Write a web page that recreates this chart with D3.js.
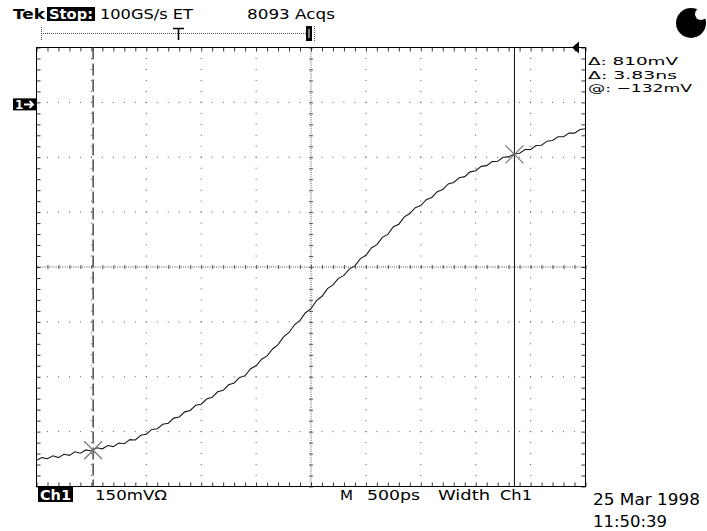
<!DOCTYPE html>
<html><head><meta charset="utf-8">
<script src="https://cdn.jsdelivr.net/npm/d3@7"></script>
<style>body{margin:0;background:#fff}svg{display:block}text{font-family:"DejaVu Sans",sans-serif;font-size:14px;fill:#000}</style>
</head><body>
<svg id="c" width="707" height="531"></svg>
<script>
// ---- data (time in ns, voltage in mV) ----
const timesNs = [0,0.05,0.1,0.15,0.2,0.25,0.3,0.35,0.4,0.45,0.5,0.55,0.6,0.65,0.7,0.75,0.8,0.85,0.9,0.95,
 1,1.05,1.1,1.15,1.2,1.25,1.3,1.35,1.4,1.45,1.5,1.55,1.6,1.65,1.7,1.75,1.8,1.85,1.9,1.95,
 2,2.05,2.1,2.15,2.2,2.25,2.3,2.35,2.4,2.45,2.5,2.55,2.6,2.65,2.7,2.75,2.8,2.85,2.9,2.95,
 3,3.05,3.1,3.15,3.2,3.25,3.3,3.35,3.4,3.45,3.5,3.55,3.6,3.65,3.7,3.75,3.8,3.85,3.9,3.95,
 4,4.05,4.1,4.15,4.2,4.25,4.3,4.35,4.4,4.45,4.5,4.55,4.6,4.65,4.7,4.75,4.8,4.85,4.9,4.95,5];
const voltsMv = [-978,-971,-974,-966,-971,-962,-965,-955,-959,-950,-953,-944,-947,-938,-941,-931,-933,-922,-923,-910,
 -907,-894,-892,-880,-877,-863,-860,-846,-842,-828,-825,-811,-806,-791,-787,-772,-767,-752,-747,-728,
 -720,-702,-693,-674,-662,-641,-629,-608,-596,-575,-564,-542,-530,-509,-499,-481,-473,-455,-447,-427,
 -418,-398,-389,-369,-361,-340,-333,-313,-304,-288,-282,-266,-260,-244,-238,-223,-219,-206,-203,-190,
 -187,-175,-173,-162,-161,-150,-149,-141,-139,-129,-129,-118,-117,-106,-104,-94,-94,-84,-84,-74,-72];
const xMajorNs = [0,0.5,1,1.5,2,2.5,3,3.5,4,4.5,5];
const yMajorMv = [-1050,-900,-750,-600,-450,-300,-150,0,150];
const cursorTimesNs = [0.516, 4.353];
const cursorVoltsMv = [-951, -142];
const groundMv = 0;
const triggerMv = 150;
const readouts = ["\u0394: 810mV", "\u0394: 3.83ns", "@: \u2212132mV"];

// ---- scales ----
const x = d3.scaleLinear().domain([0,5]).range([36.5,585.5]);
const y = d3.scaleLinear().domain([-1050,150]).range([486.5,47.5]);
const svg = d3.select("#c");
const minorX = d3.range(0, 5.0001, 0.1);
const minorY = d3.range(-1050, 150.001, 30);
const fineX = d3.range(0, 5.0001, 0.02);
const fineY = d3.range(-1050, 150.001, 6);

const g = svg.append("g");
const dotCol = "#555";
// grid dots on interior major lines
xMajorNs.slice(1,-1).filter(v=>v!==2.5).forEach(t=>{
  g.selectAll(null).data(minorY).enter().append("rect")
    .attr("x", x(t)-0.5).attr("y", d=>y(d)-0.5).attr("width",1).attr("height",1).attr("fill",dotCol);
});
yMajorMv.slice(1,-1).filter(v=>v!==-450).forEach(m=>{
  g.selectAll(null).data(minorX).enter().append("rect")
    .attr("x", d=>x(d)-0.5).attr("y", y(m)-0.5).attr("width",1).attr("height",1).attr("fill",dotCol);
});
// center lines: dense dots + ticks
g.selectAll(null).data(fineY).enter().append("rect")
  .attr("x", x(2.5)-0.5).attr("y", d=>y(d)-0.5).attr("width",1).attr("height",1).attr("fill",dotCol);
g.selectAll(null).data(fineX).enter().append("rect")
  .attr("x", d=>x(d)-0.5).attr("y", y(-450)-0.5).attr("width",1).attr("height",1).attr("fill",dotCol);
[d3.axisTop, d3.axisBottom].forEach(ax=>{
  g.append("g").attr("transform","translate(0,"+y(-450)+")").call(ax(x).tickValues(minorX).tickSize(2).tickFormat(""))
   .call(s=>{s.select(".domain").remove(); s.selectAll("line").attr("stroke",dotCol);});
});
[d3.axisLeft, d3.axisRight].forEach(ax=>{
  g.append("g").attr("transform","translate("+x(2.5)+",0)").call(ax(y).tickValues(minorY).tickSize(2).tickFormat(""))
   .call(s=>{s.select(".domain").remove(); s.selectAll("line").attr("stroke",dotCol);});
});
// frame edge ticks
const edge = (axis, tr) => g.append("g").attr("transform",tr).call(axis.tickSize(4).tickFormat(""))
   .call(s=>{s.select(".domain").remove(); s.selectAll("line").attr("stroke","#333");});
edge(d3.axisBottom(x).tickValues(minorX), "translate(0,"+y(150)+")");
edge(d3.axisTop(x).tickValues(minorX), "translate(0,"+y(-1050)+")");
edge(d3.axisRight(y).tickValues(minorY), "translate("+x(0)+",0)");
edge(d3.axisLeft(y).tickValues(minorY), "translate("+x(5)+",0)");
// frame
g.append("rect").attr("x",x(0)).attr("y",y(150)).attr("width",x(5)-x(0)).attr("height",y(-1050)-y(150))
  .attr("fill","none").attr("stroke","#000").attr("stroke-width",1);

// cursors
g.append("line").attr("x1",x(cursorTimesNs[0])).attr("x2",x(cursorTimesNs[0])).attr("y1",y(150)).attr("y2",y(-1050))
  .attr("stroke","#555").attr("stroke-width",1.6).attr("stroke-dasharray","12,4");
g.append("line").attr("x1",x(cursorTimesNs[1])).attr("x2",x(cursorTimesNs[1])).attr("y1",y(150)).attr("y2",y(-1050))
  .attr("stroke","#111").attr("stroke-width",1);

// waveform
const pts = timesNs.map((t,i)=>[t, voltsMv[i]]);
g.append("path").datum(pts).attr("fill","none").attr("stroke","#1a1a1a").attr("stroke-width",1.1)
  .attr("d", d3.line().x(d=>x(d[0])).y(d=>y(d[1])));

// cursor crossing X marks
cursorTimesNs.forEach((t,i)=>{
  const cx = x(t), cy = y(cursorVoltsMv[i]);
  g.append("path").attr("d",`M${cx-9},${cy-9}L${cx+9},${cy+9}M${cx-9},${cy+9}L${cx+9},${cy-9}`)
    .attr("stroke","#777").attr("stroke-width",1.2).attr("fill","none");
});

// trigger level marker (right, top)
const ty = y(triggerMv);
g.append("path").attr("d",`M572,${ty}L579,${ty-6}L579,${ty+6}Z`).attr("fill","#000");

// ground marker
const gy = y(groundMv)+2;
g.append("rect").attr("x",13).attr("y",gy-6).attr("width",23).attr("height",12).attr("fill","#000");
g.append("text").attr("x",15).attr("y",gy+5).text("1").style("fill","#fff").style("font-weight","bold").style("font-size","12px");
g.append("path").attr("d",`M24,${gy}L33,${gy}M29.5,${gy-3.5}L33,${gy}L29.5,${gy+3.5}`).attr("stroke","#fff").attr("stroke-width",2).attr("fill","none");

// record bar at top
g.append("line").attr("x1",41).attr("x2",306).attr("y1",33.5).attr("y2",33.5).attr("stroke","#555").attr("stroke-dasharray","1,1");
g.append("line").attr("x1",41.5).attr("x2",41.5).attr("y1",27).attr("y2",40).attr("stroke","#555").attr("stroke-dasharray","1,1");
g.append("path").attr("d","M173,28.5H184M178.5,28.5V40").attr("stroke","#000").attr("stroke-width",1.6).attr("fill","none");
g.append("rect").attr("x",306).attr("y",26).attr("width",6).attr("height",15).attr("fill","#000");
g.append("line").attr("x1",309).attr("x2",309).attr("y1",29).attr("y2",38).attr("stroke","#fff").attr("stroke-width",1);
g.append("line").attr("x1",314.5).attr("x2",314.5).attr("y1",26).attr("y2",41).attr("stroke","#555").attr("stroke-dasharray","1,1");

// texts
const txt = (s, xx, yy, len, opts={}) => {
  const t = svg.append("text").attr("x",xx).attr("y",yy).text(s);
  if (len) t.attr("textLength",len).attr("lengthAdjust","spacingAndGlyphs");
  if (opts.bold) t.style("font-weight","bold");
  if (opts.fill) t.style("fill",opts.fill);
  if (opts.size) t.style("font-size",opts.size+"px");
  return t;
};
txt("Tek", 13, 19, 32, {bold:true});
svg.append("rect").attr("x",47).attr("y",7).attr("width",48).attr("height",14).attr("fill","#000");
txt("Stop:", 49, 19, 44, {bold:true, fill:"#fff"});
txt("100GS/s ET", 100, 19, 93);
txt("8093 Acqs", 247, 19, 88);
readouts.forEach((s,i)=>txt(s, 588, 65+i*13.5, [90,89,104][i], {size:11}));

svg.append("rect").attr("x",38).attr("y",487).attr("width",35).attr("height",15).attr("fill","#000");
txt("Ch1", 40, 500, 31, {bold:true, fill:"#fff"});
txt("150mV\u03A9", 95, 500, 72);
txt("M", 340, 500, 13);
txt("500ps", 367, 500, 53);
txt("Width", 438, 500, 52);
txt("Ch1", 500, 500, 32);
txt("25 Mar 1998", 593, 505, 107, {size:15});
txt("11:50:39", 593, 527, 74, {size:15});

// logo
svg.append("circle").attr("cx",691).attr("cy",23).attr("r",15).attr("fill","#000");
svg.append("circle").attr("cx",701).attr("cy",14).attr("r",6).attr("fill","#fff");
</script>
</body></html>
